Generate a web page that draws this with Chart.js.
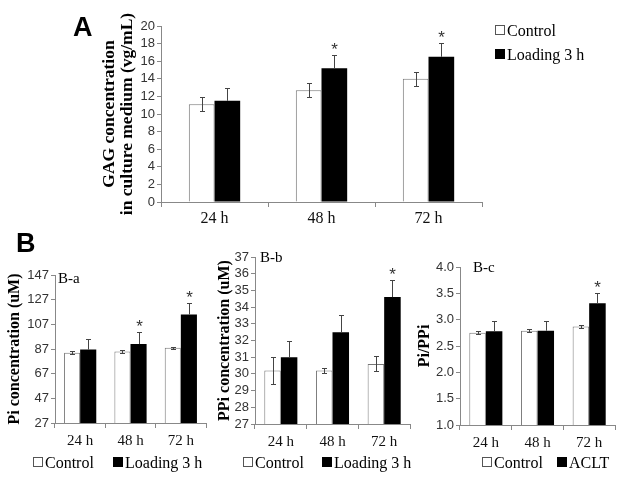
<!DOCTYPE html>
<html>
<head>
<meta charset="utf-8">
<script src="https://cdn.jsdelivr.net/npm/chart.js@4/dist/chart.umd.min.js"></script>
<style>
  body { margin: 0; background: #fff; width: 629px; height: 482px; position: relative; overflow: hidden; }
  canvas { position: absolute; }
  .txt { position: absolute; line-height: 1; white-space: nowrap; transform: translateY(-50%); color: #000; }
  .letter { font-family: "Liberation Sans", Arial, sans-serif; font-weight: bold; font-size: 27px; }
  .serif { font-family: "Liberation Serif", "Times New Roman", serif; font-size: 16px; }
  .sq { display: inline-block; width: 8px; height: 8px; border: 1px solid #555; margin-right: 2px; vertical-align: 1px; }
  .sq.black { background: #000; border-color: #000; }
</style>
</head>
<body>
<canvas id="chartA" style="left:0;top:0" width="629" height="230"></canvas>
<canvas id="chartBa" style="left:0;top:225px" width="215" height="257"></canvas>
<canvas id="chartBb" style="left:205px;top:225px" width="215" height="257"></canvas>
<canvas id="chartBc" style="left:410px;top:225px" width="219" height="257"></canvas>

<div class="txt letter" style="left:73px;top:27px">A</div>
<div class="txt letter" style="left:16px;top:243px">B</div>

<div class="txt serif" style="left:495px;top:31px"><span class="sq"></span>Control</div>
<div class="txt serif" style="left:495px;top:55px"><span class="sq black"></span>Loading 3 h</div>

<div class="txt serif" style="left:58px;top:278px;font-size:15px">B-a</div>
<div class="txt serif" style="left:260px;top:257px;font-size:15px">B-b</div>
<div class="txt serif" style="left:473px;top:267px;font-size:15px">B-c</div>

<div class="txt serif" style="left:33px;top:463px"><span class="sq"></span>Control</div>
<div class="txt serif" style="left:113px;top:463px"><span class="sq black"></span>Loading 3 h</div>
<div class="txt serif" style="left:243px;top:463px"><span class="sq"></span>Control</div>
<div class="txt serif" style="left:322px;top:463px"><span class="sq black"></span>Loading 3 h</div>
<div class="txt serif" style="left:482px;top:463px"><span class="sq"></span>Control</div>
<div class="txt serif" style="left:557px;top:463px"><span class="sq black"></span>ACLT</div>

<script>
const categories = ['24 h', '48 h', '72 h'];

// A: GAG in culture medium
const gagControl = [11.1, 12.7, 14.0];
const gagControlErr = [0.8, 0.8, 0.8];
const gagLoading = [11.5, 15.2, 16.5];
const gagLoadingErr = [1.5, 1.5, 1.6];
const gagStars = [false, true, true];
const gagTicks = { min: 0, max: 20, step: 2 };

// B-a: Pi
const piControl = [84, 85, 88];
const piControlErr = [1, 1, 1];
const piLoading = [86.5, 91, 115];
const piLoadingErr = [9, 9.5, 9];
const piStars = [false, true, true];
const piTicks = { min: 27, max: 147, step: 20 };

// B-b: PPi
const ppiControl = [30.2, 30.2, 30.6];
const ppiControlErr = [0.8, 0.15, 0.45];
const ppiLoading = [31.0, 32.5, 34.6];
const ppiLoadingErr = [1.0, 1.0, 1.0];
const ppiStars = [false, false, true];
const ppiTicks = { min: 27, max: 37, step: 1 };

// B-c: Pi/PPi
const ratioControl = [2.75, 2.79, 2.87];
const ratioControlErr = [0.03, 0.03, 0.03];
const ratioAclt = [2.78, 2.79, 3.31];
const ratioAcltErr = [0.19, 0.19, 0.19];
const ratioStars = [false, false, true];
const ratioTicks = { min: 1, max: 4, step: 0.5 };

const axisColor = '#888';

const errorBars = {
  id: 'errorBars',
  afterDatasetsDraw(chart) {
    const ctx = chart.ctx;
    const yScale = chart.scales.y;
    chart.data.datasets.forEach((ds, i) => {
      const meta = chart.getDatasetMeta(i);
      meta.data.forEach((bar, j) => {
        const v = ds.data[j];
        const e = ds.errors[j];
        const x = Math.round(bar.x) + 0.5;
        const yTop = Math.round(yScale.getPixelForValue(v + e)) + 0.5;
        const yBot = ds.errDown ? Math.round(yScale.getPixelForValue(v - e)) + 0.5 : bar.y;
        ctx.save();
        ctx.strokeStyle = '#444';
        ctx.lineWidth = 1;
        ctx.beginPath();
        ctx.moveTo(x, yBot);
        ctx.lineTo(x, yTop);
        ctx.moveTo(x - 2.5, yTop);
        ctx.lineTo(x + 2.5, yTop);
        if (ds.errDown) {
          ctx.moveTo(x - 2.5, yBot);
          ctx.lineTo(x + 2.5, yBot);
        }
        ctx.stroke();
        if (ds.stars && ds.stars[j]) {
          ctx.fillStyle = '#333';
          ctx.font = '17px "Liberation Sans"';
          ctx.textAlign = 'center';
          ctx.textBaseline = 'alphabetic';
          ctx.fillText('*', x, yTop - 1);
        }
        ctx.restore();
      });
    });
  }
};

function createPanel(id, opts) {
  const canvas = document.getElementById(id);
  const W = canvas.width;
  const H = canvas.height;
  const area = opts.area;
  return new Chart(canvas.getContext('2d'), {
    type: 'bar',
    data: {
      labels: categories,
      datasets: [{
        data: opts.control,
        errors: opts.controlErr,
        errDown: true,
        backgroundColor: '#fff',
        borderColor: '#777',
        borderWidth: 1,
        barPercentage: 1,
        categoryPercentage: opts.catPct
      }, {
        data: opts.treated,
        errors: opts.treatedErr,
        errDown: false,
        stars: opts.stars,
        backgroundColor: '#000',
        borderColor: '#000',
        borderWidth: 0,
        barPercentage: 1,
        categoryPercentage: opts.catPct
      }]
    },
    options: {
      responsive: false,
      animation: false,
      devicePixelRatio: 1,
      layout: {
        padding: { left: opts.titleLeft, top: area.top, right: W - area.right, bottom: 0 }
      },
      plugins: {
        legend: { display: false },
        tooltip: { enabled: false }
      },
      scales: {
        x: {
          afterFit: s => { s.height = H - area.bottom; },
          border: { color: axisColor, width: 1 },
          grid: { drawOnChartArea: false, color: axisColor, tickLength: 5, offset: true },
          ticks: {
            color: '#111',
            padding: opts.xPad,
            font: { family: 'Liberation Serif', size: opts.xFont }
          }
        },
        y: {
          min: opts.ticks.min,
          max: opts.ticks.max,
          afterFit: s => { s.width = area.left - opts.titleLeft; },
          afterBuildTicks: s => {
            const t = [];
            for (let v = opts.ticks.min; v <= opts.ticks.max + 1e-9; v += opts.ticks.step) t.push({ value: v });
            s.ticks = t;
          },
          border: { color: axisColor, width: 1 },
          grid: { drawOnChartArea: false, color: axisColor, tickLength: 4 },
          title: {
            display: true,
            text: opts.title,
            color: '#000',
            padding: 0,
            font: { family: 'Liberation Serif', size: opts.titleSize, weight: 'bold', lineHeight: 1.0 }
          },
          ticks: {
            autoSkip: false,
            color: '#333',
            padding: 2,
            font: { family: 'Liberation Sans', size: 13 },
            callback: v => opts.decimals ? v.toFixed(opts.decimals) : v
          }
        }
      }
    },
    plugins: [errorBars]
  });
}

createPanel('chartA', {
  control: gagControl, controlErr: gagControlErr,
  treated: gagLoading, treatedErr: gagLoadingErr, stars: gagStars,
  ticks: gagTicks, decimals: 0,
  title: ['GAG concentration', 'in culture medium (vg/mL)'],
  titleSize: 17.5,
  area: { left: 161, top: 26, right: 482, bottom: 202 },
  titleLeft: 101, catPct: 0.48, xFont: 16, xPad: 2
});

createPanel('chartBa', {
  control: piControl, controlErr: piControlErr,
  treated: piLoading, treatedErr: piLoadingErr, stars: piStars,
  ticks: piTicks, decimals: 0,
  title: 'Pi concentration (uM)', titleSize: 16,
  area: { left: 55, top: 50, right: 206, bottom: 198 },
  titleLeft: 7, catPct: 0.64, xFont: 15, xPad: 4
});

createPanel('chartBb', {
  control: ppiControl, controlErr: ppiControlErr,
  treated: ppiLoading, treatedErr: ppiLoadingErr, stars: ppiStars,
  ticks: ppiTicks, decimals: 0,
  title: 'PPi concentration (uM)', titleSize: 16,
  area: { left: 50, top: 32, right: 205, bottom: 199 },
  titleLeft: 12, catPct: 0.64, xFont: 15, xPad: 4
});

createPanel('chartBc', {
  control: ratioControl, controlErr: ratioControlErr,
  treated: ratioAclt, treatedErr: ratioAcltErr, stars: ratioStars,
  ticks: ratioTicks, decimals: 1,
  title: 'Pi/PPi', titleSize: 16,
  area: { left: 50, top: 42, right: 205, bottom: 200 },
  titleLeft: 7, catPct: 0.64, xFont: 15, xPad: 4
});
</script>
</body>
</html>
